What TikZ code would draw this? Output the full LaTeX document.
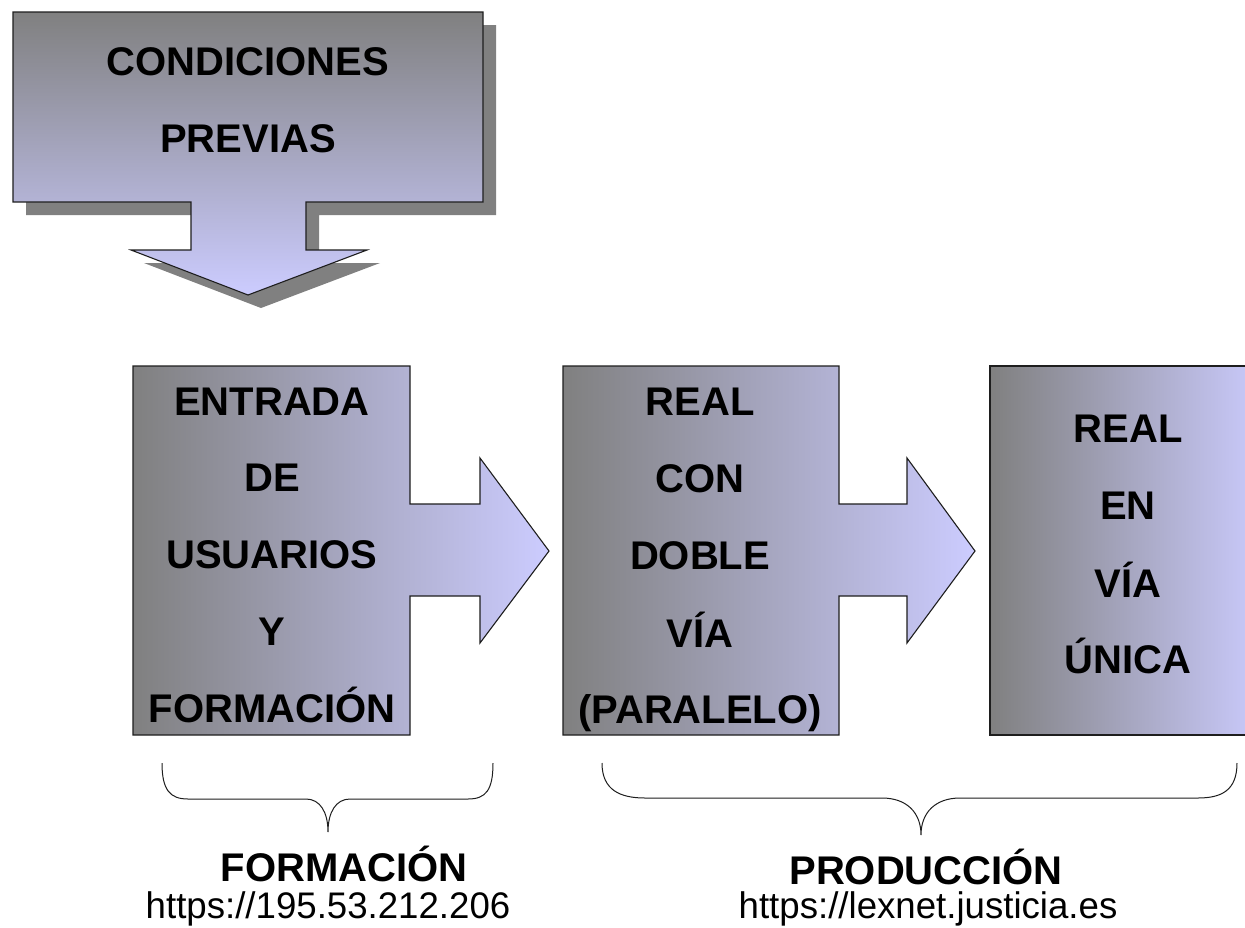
\documentclass[tikz,border=0pt]{standalone}
\usepackage{fontspec}
\setmainfont{Liberation Sans}
\definecolor{dk}{RGB}{128,128,128}
\definecolor{lv}{RGB}{204,204,255}
\definecolor{edge}{RGB}{30,30,30}
\begin{document}
\begin{tikzpicture}[x=1pt,y=-1pt]
\tikzset{
  outline/.style={draw=edge, line width=1.1pt, line join=miter},
  boxtxt/.style={anchor=base, inner sep=0pt, font=\fontsize{40}{48}\selectfont\bfseries},
  lbl/.style={anchor=base, inner sep=0pt, font=\fontsize{40}{48}\selectfont\bfseries},
  urltxt/.style={anchor=base, inner sep=0pt, xscale=0.99, font=\fontsize{37}{44}\selectfont},
  bracestroke/.style={draw=edge, line width=1pt},
}
\useasboundingbox (0,0) rectangle (1245,927);
\fill[white] (0,0) rectangle (1245,927);
\begin{scope}
\clip (0,0) rectangle (1245,927);
% top callout shadow
\begin{scope}[shift={(13,13)}]
\fill[dk] (13,12) -- (483,12) -- (483,202) -- (306,202) -- (306,250) -- (367,250) -- (248,295) -- (131,250) -- (191,250) -- (191,202) -- (13,202) -- cycle;
\end{scope}
% top callout
\shade[top color=dk, bottom color=lv, outline] (13,12) -- (483,12) -- (483,202) -- (306,202) -- (306,250) -- (367,250) -- (248,295) -- (131,250) -- (191,250) -- (191,202) -- (13,202) -- cycle;
\node[boxtxt] (c1) at (248,75) {CONDICIONES};
\node[boxtxt] (c2) at (248,152) {PREVIAS};
% box 1 with arrow
\shade[left color=dk, right color=lv, outline] (133,366) -- (410,366) -- (410,504) -- (480,504) -- (480,458) -- (549,551) -- (480,643) -- (480,596) -- (410,596) -- (410,735) -- (133,735) -- cycle;
\node[boxtxt] (a1) at (272,415) {ENTRADA};
\node[boxtxt] (a2) at (272,491) {DE};
\node[boxtxt] (a3) at (272,568) {USUARIOS};
\node[boxtxt] (a4) at (272,645) {Y};
\node[boxtxt] (a5) at (272,722) {FORMACIÓN};
% box 2 with arrow
\shade[left color=dk, right color=lv, outline] (563,366) -- (839,366) -- (839,504) -- (907,504) -- (907,458) -- (975,551) -- (907,643) -- (907,596) -- (839,596) -- (839,735) -- (563,735) -- cycle;
\node[boxtxt] (b1) at (700,415) {REAL};
\node[boxtxt] (b2) at (700,492) {CON};
\node[boxtxt] (b3) at (700,569) {DOBLE};
\node[boxtxt] (b4) at (700,647) {VÍA};
\node[boxtxt] (b5) at (700,723) {(PARALELO)};
% box 3
\shade[left color=dk, right color=lv, outline] (990,366) rectangle (1267,735);
\node[boxtxt] (d1) at (1128,442) {REAL};
\node[boxtxt] (d2) at (1128,519) {EN};
\node[boxtxt] (d3) at (1128,597) {VÍA};
\node[boxtxt] (d4) at (1128,673) {ÚNICA};
% braces
\draw[bracestroke] (162,763) .. controls (162,790) and (170,799) .. (188,799) -- (306,799) .. controls (320,799) and (328,812) .. (328,832) .. controls (328,812) and (336,799) .. (350,799) -- (468,799) .. controls (486,799) and (493,790) .. (493,763);
\draw[bracestroke] (602,763) .. controls (602,790) and (620,798) .. (645,798) -- (882,798) .. controls (906,798) and (921,812) .. (921,835) .. controls (921,812) and (936,798) .. (960,798) -- (1198,798) .. controls (1222,798) and (1237,790) .. (1237,763);
% labels
\node[lbl] (f1) at (344,881) {FORMACIÓN};
\node[urltxt] (f2) at (328,918) {https://195.53.212.206};
\node[lbl] (p1) at (926,884) {PRODUCCIÓN};
\node[urltxt] (p2) at (928,918) {https://lexnet.justicia.es};
\end{scope}
\end{tikzpicture}
\end{document}
